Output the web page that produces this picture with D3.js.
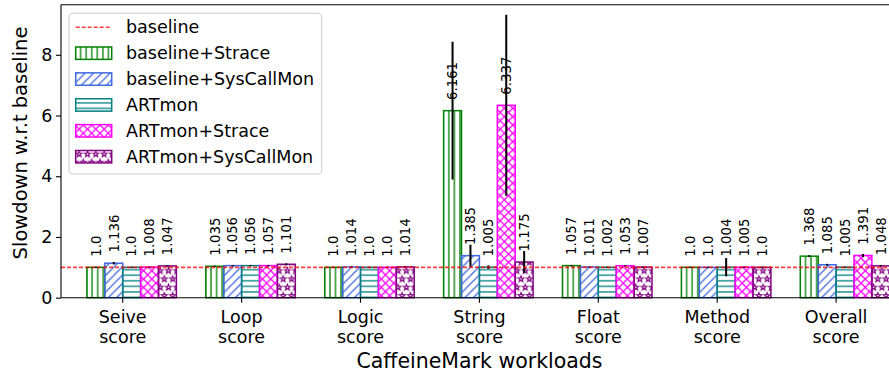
<!DOCTYPE html>
<html><head><meta charset="utf-8">
<script src="https://cdn.jsdelivr.net/npm/d3@7"></script>
<style>body{margin:0;background:#fff}svg{display:block}svg text{font-family:"DejaVu Sans",sans-serif}</style>
</head><body>
<svg id="chart" width="889" height="374" font-family="DejaVu Sans"></svg>
<script>
const categories = ["Seive score","Loop score","Logic score","String score","Float score","Method score","Overall score"];
const seriesNames = ["baseline+Strace","baseline+SysCallMon","ARTmon","ARTmon+Strace","ARTmon+SysCallMon"];
const baselineStrace    = [1.0, 1.035, 1.0, 6.161, 1.057, 1.0, 1.368];
const baselineSysCall   = [1.136, 1.056, 1.014, 1.385, 1.011, 1.0, 1.085];
const artmon            = [1.0, 1.056, 1.0, 1.005, 1.002, 1.004, 1.005];
const artmonStrace      = [1.008, 1.057, 1.0, 6.337, 1.053, 1.005, 1.391];
const artmonSysCall     = [1.047, 1.101, 1.014, 1.175, 1.007, 1.0, 1.048];
const errBaselineStrace  = [0.02, 0.02, 0.02, 2.27, 0.02, 0.02, 0.03];
const errBaselineSysCall = [0.04, 0.02, 0.02, 0.36, 0.02, 0.02, 0.03];
const errArtmon          = [0.02, 0.02, 0.02, 0.06, 0.02, 0.30, 0.02];
const errArtmonStrace    = [0.02, 0.02, 0.02, 2.98, 0.02, 0.02, 0.05];
const errArtmonSysCall   = [0.02, 0.03, 0.02, 0.36, 0.02, 0.02, 0.02];
const yTicks = [0, 2, 4, 6, 8];
const baselineValue = 1.0;

const values = [baselineStrace, baselineSysCall, artmon, artmonStrace, artmonSysCall];
const errors = [errBaselineStrace, errBaselineSysCall, errArtmon, errArtmonStrace, errArtmonSysCall];
const colors = ["#008000", "#4169e1", "#008080", "#ff00ff", "#800080"];
const patternIds = ["hVert", "hDiag", "hHorz", "hCross", "hStar"];
const FONT = "DejaVu Sans";

const svg = d3.select("#chart");
const L = 61, T = 4.7, B = 297.7, R = 915;

const x = d3.scaleBand().domain(categories).range([63.25, 63.25 + 7 * 118.9]).padding(0);
const bw = 17.9;
const xs = d3.scaleBand().domain(seriesNames).range([-2 * bw, 3 * bw]).padding(0);
const y = d3.scaleLinear().domain([0, 9.65]).range([B, T]);

// patterns
const defs = svg.append("defs");
const lw = 1.3;
{
  const s = 5.56;
  const p = defs.append("pattern").attr("id", "hVert").attr("patternUnits", "userSpaceOnUse").attr("width", s).attr("height", s);
  p.append("line").attr("x1", s/2).attr("x2", s/2).attr("y1", 0).attr("y2", s).attr("stroke", colors[0]).attr("stroke-width", lw);
}
{
  const s = 8.33;
  const p = defs.append("pattern").attr("id", "hDiag").attr("patternUnits", "userSpaceOnUse").attr("width", s).attr("height", s);
  p.append("path").attr("d", `M0,${s} L${s},0 M${-s/2},${s/2} L${s/2},${-s/2} M${s/2},${s*1.5} L${s*1.5},${s/2}`).attr("stroke", colors[1]).attr("stroke-width", lw).attr("fill", "none");
}
{
  const s = 5.56;
  const p = defs.append("pattern").attr("id", "hHorz").attr("patternUnits", "userSpaceOnUse").attr("width", s).attr("height", s);
  p.append("line").attr("x1", 0).attr("x2", s).attr("y1", s/2).attr("y2", s/2).attr("stroke", colors[2]).attr("stroke-width", lw);
}
{
  const s = 8.33;
  const p = defs.append("pattern").attr("id", "hCross").attr("patternUnits", "userSpaceOnUse").attr("width", s).attr("height", s);
  p.append("path").attr("d", `M0,0 L${s},${s} M0,${s} L${s},0`).attr("stroke", colors[3]).attr("stroke-width", lw).attr("fill", "none");
}
{
  const s = 8.33;
  const p = defs.append("pattern").attr("id", "hStar").attr("patternUnits", "userSpaceOnUse").attr("width", s).attr("height", 2 * s);
  const star = (cx, cy, r) => {
    let d = "";
    for (let i = 0; i < 10; i++) {
      const a = -Math.PI / 2 + i * Math.PI / 5;
      const rr = i % 2 === 0 ? r : r * 0.42;
      d += (i === 0 ? "M" : "L") + (cx + rr * Math.cos(a)).toFixed(2) + "," + (cy + rr * Math.sin(a)).toFixed(2);
    }
    return d + "Z";
  };
  const d = star(s/2, s/2, 3.0) + star(0, s*1.5, 3.0) + star(s, s*1.5, 3.0);
  p.append("path").attr("d", d).attr("stroke", colors[4]).attr("stroke-width", 1.2).attr("fill", "none");
}

// bars
const groups = svg.append("g").selectAll("g").data(categories).join("g")
  .attr("transform", d => `translate(${x(d) + x.bandwidth() / 2},0)`);

seriesNames.forEach((s, k) => {
  groups.append("rect")
    .attr("x", xs(s))
    .attr("width", xs.bandwidth())
    .attr("y", (d, i) => y(values[k][i]))
    .attr("height", (d, i) => y(0) - y(values[k][i]))
    .attr("fill", `url(#${patternIds[k]})`)
    .attr("stroke", colors[k])
    .attr("stroke-width", 1.5);
});

// error bars
seriesNames.forEach((s, k) => {
  groups.append("line")
    .attr("x1", xs(s) + xs.bandwidth() / 2).attr("x2", xs(s) + xs.bandwidth() / 2)
    .attr("y1", (d, i) => y(values[k][i] - errors[k][i]))
    .attr("y2", (d, i) => y(values[k][i] + errors[k][i]))
    .attr("stroke", "#000").attr("stroke-width", 2);
});

// baseline line
svg.append("line").attr("x1", L).attr("x2", R).attr("y1", y(baselineValue)).attr("y2", y(baselineValue))
  .attr("stroke", "#ff0000").attr("stroke-opacity", 0.75).attr("stroke-width", 1.6).attr("stroke-dasharray", "4,2");

// value labels
seriesNames.forEach((s, k) => {
  groups.append("text")
    .attr("transform", (d, i) => `translate(${xs(s) + xs.bandwidth() / 2},${y(values[k][i] + 0.35)}) rotate(-90)`)
    .attr("dy", "0.36em")
    .attr("font-family", FONT)
    .attr("font-size", "13.3px")
    .attr("fill", "#000")
    .text((d, i) => String(values[k][i] % 1 === 0 ? values[k][i].toFixed(1) : values[k][i]));
});

// spines
svg.append("line").attr("x1", L).attr("x2", L).attr("y1", T).attr("y2", B).attr("stroke", "#000").attr("stroke-width", 1.1);
svg.append("line").attr("x1", L).attr("x2", R).attr("y1", B).attr("y2", B).attr("stroke", "#000").attr("stroke-width", 1.1);
svg.append("line").attr("x1", L).attr("x2", R).attr("y1", T).attr("y2", T).attr("stroke", "#000").attr("stroke-width", 1.1);

// y axis
const yAxis = svg.append("g").attr("transform", `translate(${L},0)`)
  .call(d3.axisLeft(y).tickValues(yTicks).tickSize(5).tickPadding(3.5).tickFormat(d3.format("d")));
yAxis.attr("font-family", FONT).attr("font-size", "17.5px");
yAxis.select(".domain").remove();
yAxis.selectAll("text").attr("font-family", FONT).attr("font-size", "17.5px").attr("fill", "#000");
yAxis.selectAll("line").attr("stroke", "#000").attr("stroke-width", 1.1);

// x axis
const xAxis = svg.append("g").attr("transform", `translate(0,${B})`)
  .call(d3.axisBottom(x).tickSize(5).tickFormat(""));
xAxis.attr("font-family", FONT).attr("font-size", "17.5px");
xAxis.select(".domain").remove();
xAxis.selectAll("line").attr("stroke", "#000").attr("stroke-width", 1.1);
xAxis.selectAll(".tick").each(function (d) {
  const parts = d.split(" ");
  const t = d3.select(this).append("text").attr("text-anchor", "middle").attr("font-family", FONT).attr("font-size", "17.5px").attr("fill", "#000");
  parts.forEach((p, j) => t.append("tspan").attr("x", 0).attr("y", 25.5 + j * 19.5).text(p));
});

// axis labels
svg.append("text").attr("x", 479.5).attr("y", 368).attr("text-anchor", "middle").attr("font-family", FONT).attr("font-size", "20.5px").text("CaffeineMark workloads");
svg.append("text").attr("transform", `translate(27,143) rotate(-90)`).attr("text-anchor", "middle").attr("font-family", FONT).attr("font-size", "19.5px").text("Slowdown w.r.t baseline");

// legend
const lg = svg.append("g").attr("font-family", FONT);
lg.append("rect").attr("x", 69).attr("y", 13.3).attr("width", 252.7).attr("height", 160.7).attr("rx", 4)
  .attr("fill", "#fff").attr("fill-opacity", 0.8).attr("stroke", "#d0d0d0").attr("stroke-width", 1.1);
const rowY = d3.scaleLinear().domain([0, 5]).range([27.3, 156.7]);
lg.append("line").attr("x1", 75.7).attr("x2", 111.7).attr("y1", rowY(0)).attr("y2", rowY(0))
  .attr("stroke", "#ff0000").attr("stroke-opacity", 0.75).attr("stroke-width", 1.6).attr("stroke-dasharray", "4,2");
lg.append("text").attr("x", 126).attr("y", rowY(0)).attr("dy", "0.35em").attr("font-family", FONT).attr("font-size", "17.5px").text("baseline");
seriesNames.forEach((s, k) => {
  lg.append("rect").attr("x", 75.7).attr("y", rowY(k + 1) - 6.2).attr("width", 36).attr("height", 12.4)
    .attr("fill", `url(#${patternIds[k]})`).attr("stroke", colors[k]).attr("stroke-width", 1.5);
  lg.append("text").attr("x", 126).attr("y", rowY(k + 1)).attr("dy", "0.35em").attr("font-family", FONT).attr("font-size", "17.5px").text(s);
});
</script>
</body></html>
